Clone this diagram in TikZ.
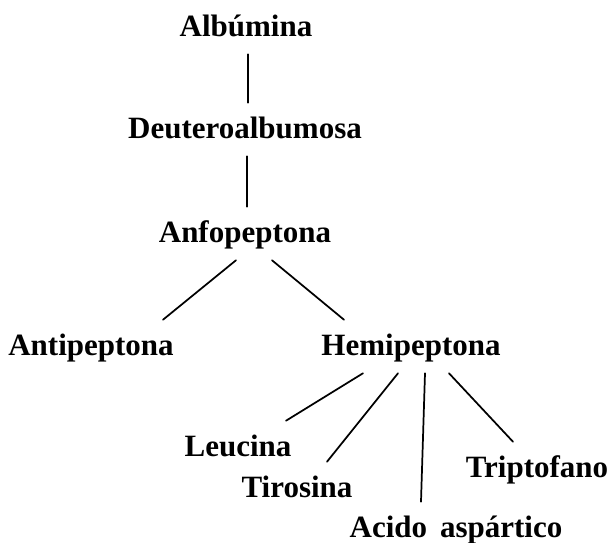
\documentclass[tikz,border=0pt]{standalone}
\usepackage{fontspec}
\setmainfont{Liberation Serif}
\usetikzlibrary{positioning}
\tikzset{term/.style={anchor=base,inner sep=0pt,text height=26.25pt,text depth=13.5pt},link/.style={line width=1.3pt,line cap=round}}

\begin{document}
\begin{tikzpicture}[x=0.75pt,y=-0.75pt,font=\fontsize{23.25}{28}\selectfont\bfseries]
\useasboundingbox (0,0) rectangle (612,543);
\node[term] (alb) at (246,36) {Albúmina};
\node[term] (deu) at (245,138) {Deuteroalbumosa};
\node[term] (anf) at (245,242) {Anfopeptona};
\node[term] (anti) at (91,355) {Antipeptona};
\node[term] (hemi) at (411,355) {Hemipeptona};
\node[term] (leu) at (238,456) {Leucina};
\node[term] (tir) at (297,497) {Tirosina};
\node[term] (trip) at (537,477) {Triptofano};
\node[term] (acid) at (456,537) {Acido\, aspártico};
\draw[link] ([xshift=1.5pt]alb.south) -- ([xshift=2.25pt]deu.north);
\draw[link] ([xshift=1.5pt]deu.south) -- ([xshift=1.5pt]anf.north);
\draw[link] ([xshift=-6.75pt]anf.south) -- ([xshift=54pt]anti.north);
\draw[link] ([xshift=20.25pt]anf.south) -- ([xshift=-50.25pt]hemi.north);
\draw[link] ([xshift=-36pt]hemi.south) -- ([xshift=36pt]leu.north);
\draw[link] ([xshift=-9.75pt]hemi.south) -- ([xshift=22.5pt]tir.north);
\draw[link] ([xshift=10.5pt]hemi.south) -- ([xshift=-26.25pt]acid.north);
\draw[link] ([xshift=28.5pt]hemi.south) -- ([xshift=-18pt]trip.north);
\end{tikzpicture}
\end{document}
